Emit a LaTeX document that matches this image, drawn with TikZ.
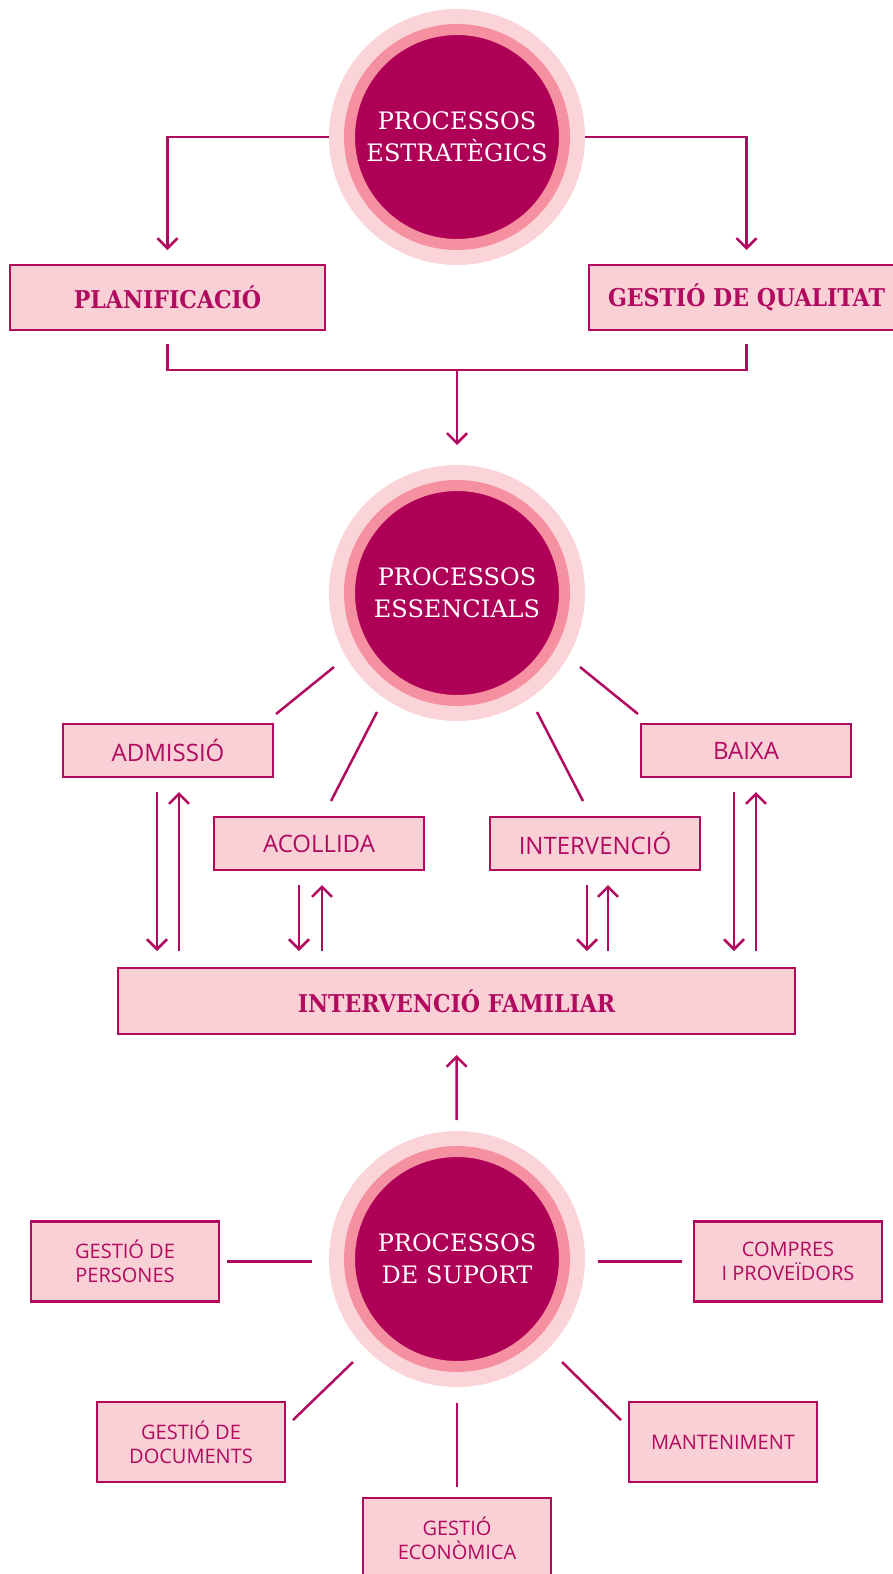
\documentclass[tikz,border=0pt]{standalone}
\usepackage{fontspec}
\setmainfont{DejaVu Serif}
\newfontfamily\slabbold[FakeStretch=0.9]{DejaVu Serif Bold}
\newfontfamily\opensans{Open Sans}
\usetikzlibrary{arrows.meta,calc,positioning}

\definecolor{plum}{HTML}{AF0057}
\definecolor{ringmid}{HTML}{F4909F}
\definecolor{ringout}{HTML}{FAD4D8}
\definecolor{boxfill}{HTML}{F9D0D6}
\definecolor{edge}{HTML}{B10A5F}

\begin{document}
\begin{tikzpicture}[x=1pt,y=-1pt,
	>={Straight Barb[length=10pt,width=20pt]},
	proc/.style={circle,fill=plum,draw=ringmid,line width=11pt,minimum size=215pt,
		inner sep=0pt,outer sep=0pt,text=white,align=center,
		font={\fontsize{24}{32}\selectfont},preaction={draw=ringout,line width=41pt}},
	keybox/.style={draw=edge,fill=boxfill,line width=2.5pt,text=edge,inner sep=0pt,
		outer sep=0pt,minimum height=65pt,font={\slabbold\fontsize{24.5}{28}\selectfont}},
	stepbox/.style={draw=edge,fill=boxfill,line width=2.5pt,text=edge,inner sep=0pt,
		outer sep=0pt,minimum width=210pt,minimum height=53pt,
		font={\opensans\fontsize{24}{28}\selectfont}},
	subbox/.style={draw=edge,fill=boxfill,line width=2.5pt,text=edge,inner sep=0pt,
		outer sep=0pt,minimum width=188pt,minimum height=80pt,align=center,
		font={\opensans\fontsize{20}{24}\selectfont}},
	link/.style={draw=edge,line width=2.5pt},
	arr/.style={->,link}]
\useasboundingbox (0,0) rectangle (893,1574);

% strategic level
\node[proc] (strat) at (457,137) {PROCESSOS\\ESTRATÈGICS};
\node[keybox,minimum width=315pt] (plan) at (167.5,297.5) {PLANIFICACIÓ};
\node[keybox,minimum width=315pt] (qual) at (746.5,297.5) {GESTIÓ DE QUALITAT};

\draw[arr] ($(strat)+(-128,0)$) -| ([yshift=15pt]plan.north);
\draw[arr] ($(strat)+(128,0)$) -| ([yshift=15pt]qual.north);
\draw[link] ([yshift=-14pt]plan.south) -- ++(0,26) -| ([yshift=-14pt]qual.south);

% essential level
\node[proc] (ess) at (457,593) {PROCESSOS\\ESSENCIALS};
\node[stepbox] (adm) at (168,750.5) {ADMISSIÓ};
\node[stepbox] (acol) at (319,843.5) {ACOLLIDA};
\node[stepbox] (interv) at (595,843.5) {INTERVENCIÓ};
\node[stepbox] (baixa) at (746,750.5) {BAIXA};
\node[keybox,minimum width=677pt,minimum height=66pt] (fam) at (456.5,1001) {INTERVENCIÓ FAMILIAR};

\draw[arr] ($(plan.south)!.5!(qual.south)+(0,40)$) -- ($(ess)+(0,-148)$);
\draw[link] ($(ess)+(-123,74)$) -- ($(adm.north east)+(3,-10)$);
\draw[link] ($(ess)+(-80,119)$) -- ($(acol.north)+(12,-16)$);
\draw[link] ($(ess)+(80,119)$) -- ($(interv.north)+(-12,-16)$);
\draw[link] ($(ess)+(123,74)$) -- ($(baixa.north west)+(-3,-10)$);

\foreach \b/\d/\u in {adm/-11/11, acol/-20/3, interv/-8/13, baixa/-12/10} {
	\coordinate (dn) at ([xshift=\d pt]\b.south);
	\coordinate (up) at ([xshift=\u pt]\b.south);
	\draw[arr,shorten <=15pt,shorten >=17pt] (dn) -- (dn |- fam.north);
	\draw[arr,shorten <=17pt,shorten >=15pt] (up |- fam.north) -- (up);
}

% support level
\node[proc] (supo) at (457,1259) {PROCESSOS\\DE SUPORT};
\node[subbox] (pers) at (125,1261.5) {GESTIÓ DE\\PERSONES};
\node[subbox] (comp) at (788,1261.5) {COMPRES\\I PROVEÏDORS};
\node[subbox] (doc) at (191,1442) {GESTIÓ DE\\DOCUMENTS};
\node[subbox] (mant) at (723,1442) {MANTENIMENT};
\node[subbox] (econ) at (457,1538) {GESTIÓ\\ECONÒMICA};

\draw[arr,shorten <=31.5pt,shorten >=21pt] (supo) -- (fam.south);
\draw[link,shorten <=8pt,shorten >=38pt] (pers.east) -- (pers.east -| supo.west);
\draw[link,shorten <=12pt,shorten >=33pt] (comp.west) -- (comp.west -| supo.east);
\draw[link] ($(supo)+(-104,103)$) -- ($(doc.north east)+(8,18)$);
\draw[link] ($(supo)+(105,103)$) -- ($(mant.north west)+(-8,18)$);
\draw[link,shorten <=36.5pt,shorten >=11pt] (supo) -- (econ);

\end{tikzpicture}
\end{document}
